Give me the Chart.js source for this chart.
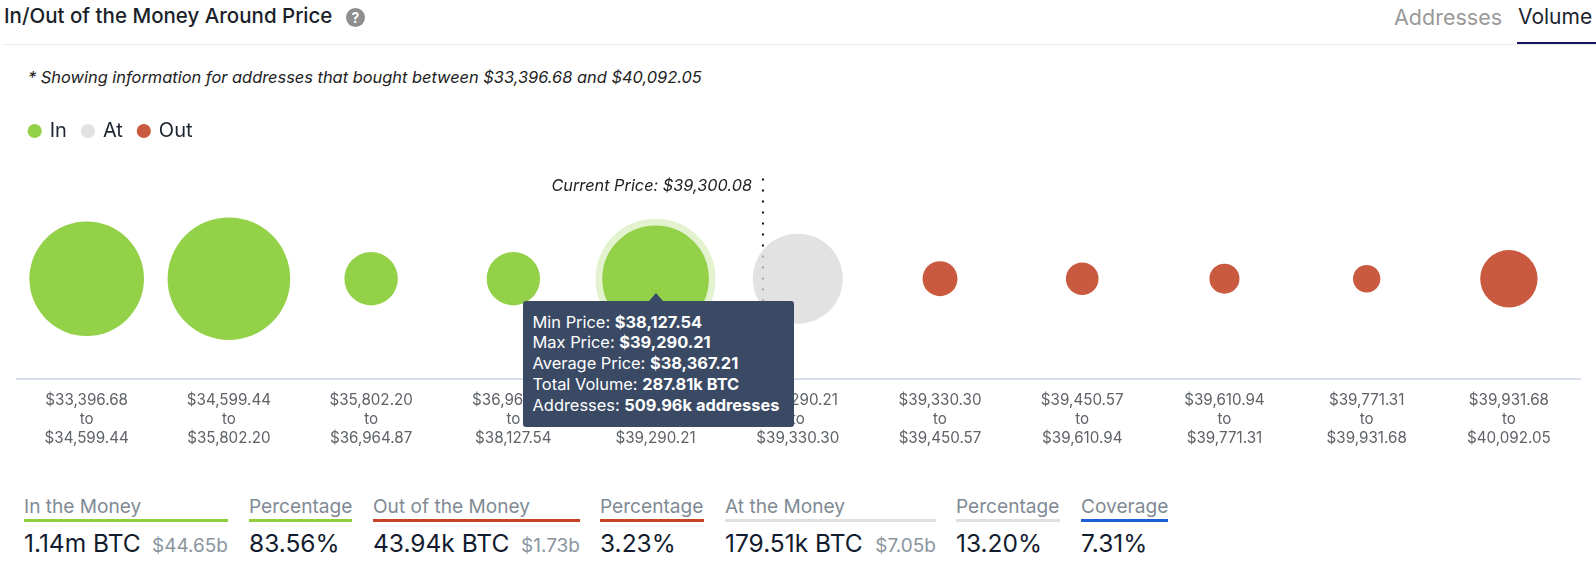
<!DOCTYPE html>
<html>
<head>
<meta charset="utf-8">
<title>In/Out of the Money Around Price</title>
<script src="https://cdn.jsdelivr.net/npm/chart.js@4/dist/chart.umd.min.js"></script>
<style>
    html, body { margin: 0; padding: 0; background: #fff; }
    body { width: 1596px; height: 566px; position: relative; overflow: hidden; font-family: Inter, sans-serif; }
    body > * { position: absolute; }
    #title { left: 4px; top: 4px; font-size: 20.5px; line-height: 24px; font-weight: 500; color: #1b1f2a; white-space: nowrap; }
    #help { left: 346px; top: 8px; width: 19px; height: 19px; border-radius: 50%; background: #8e8e8e; color: #fff; font-size: 14px; font-weight: 700; line-height: 19px; text-align: center; }
    #rule { left: 3px; right: 0; top: 44px; height: 1px; background: #e6eaf0; }
    #tab-addresses { left: 1394px; top: 4px; font-size: 21.5px; line-height: 26px; color: #999; }
    #tab-volume { left: 1518px; top: 4px; font-size: 21px; line-height: 26px; color: #1c2430; }
    #tab-line { left: 1517px; right: 0; top: 42px; height: 2px; background: #14145f; }
    #note { left: 28px; top: 67px; font-size: 16.4px; line-height: 20px; font-style: italic; color: #222; white-space: nowrap; }
    #chart { left: 0; top: 0; }
    #tip { display: none; background: #3a4a65; border-radius: 3px; color: #fff; font-size: 16.4px; line-height: 20.7px; padding: 11px 10px; white-space: nowrap; box-sizing: border-box; }
    #tip:before { content: ""; position: absolute; left: 126px; top: -8px; border-left: 7px solid transparent; border-right: 7px solid transparent; border-bottom: 8px solid #3a4a65; }
    #tip b { font-weight: 700; }
    .stat { top: 494px; height: 72px; }
    .stat .head { font-size: 19.1px; line-height: 24px; color: #7f8a94; white-space: nowrap; }
    .stat .bar { position: absolute; left: 0; right: 0; top: 25px; height: 3px; }
    .stat .val { position: absolute; left: 0; right: 0; top: 34px; font-size: 24.5px; line-height: 30px; color: #131c2e; white-space: nowrap; }
    .stat .val span { position: absolute; right: 0; top: 3px; font-size: 19px; color: #8b959e; }
</style>
</head>
<body>
<div id="title">In/Out of the Money Around Price</div>
<div id="help">?</div>
<div id="rule"></div>
<div id="tab-addresses">Addresses</div>
<div id="tab-volume">Volume</div>
<div id="tab-line"></div>
<div id="note">* Showing information for addresses that bought between $33,396.68 and $40,092.05</div>
<canvas id="chart" width="1596" height="460"></canvas>
<div id="tip"></div>

<script>
'use strict';

// price bands on the axis
const priceFrom = ['$33,396.68', '$34,599.44', '$35,802.20', '$36,964.87', '$38,127.54', '$39,290.21', '$39,330.30', '$39,450.57', '$39,610.94', '$39,771.31', '$39,931.68'];
const priceTo = ['$34,599.44', '$35,802.20', '$36,964.87', '$38,127.54', '$39,290.21', '$39,330.30', '$39,450.57', '$39,610.94', '$39,771.31', '$39,931.68', '$40,092.05'];

// volume per band in k BTC (only 287.81 is printed)
const inVolume = [332.6, 380.6, 72.2, 72.2, 287.81];
const atVolume = [205.1];
const outVolume = [31, 26.9, 22.8, 19, 83.4];

// where the current price falls on the band axis
const currentPricePos = 4.755;
const currentPriceLabel = 'Current Price: $39,300.08';

const tipLabels = ['Min Price', 'Max Price', 'Average Price', 'Total Volume', 'Addresses'];
const tipValues = ['$38,127.54', '$39,290.21', '$38,367.21', '287.81k BTC', '509.96k addresses'];

const statTitles = ['In the Money', 'Percentage', 'Out of the Money', 'Percentage', 'At the Money', 'Percentage', 'Coverage'];
const statValues = ['1.14m BTC', '83.56%', '43.94k BTC', '3.23%', '179.51k BTC', '13.20%', '7.31%'];
const statSubs = ['$44.65b', '', '$1.73b', '', '$7.05b', '', ''];

const colors = {
    green: '#92d148',
    greenRing: '#e3f2cf',
    grey: 'rgba(216, 216, 216, 0.75)',
    red: '#c9593f',
    axis: '#d9deee',
    tick: '#5f6368',
};

// left edge and width of each stat column, with its underline colour
const statBoxes = [[24, 204, '#8fcf3c'], [249, 103, '#8fcf3c'], [373, 207, '#c8431f'], [600, 104, '#c8431f'], [725, 211, '#e0e0e0'], [956, 104, '#e0e0e0'], [1081, 87, '#1f5fd6']];

statTitles.forEach(function (title, i) {
    let box = document.createElement('div');
    box.className = 'stat';
    box.style.left = statBoxes[i][0] + 'px';
    box.style.width = statBoxes[i][1] + 'px';
    box.innerHTML = '<div class="head">' + title + '</div>' +
        '<div class="bar" style="background:' + statBoxes[i][2] + '"></div>' +
        '<div class="val">' + statValues[i] + (statSubs[i] ? '<span>' + statSubs[i] + '</span>' : '') + '</div>';
    document.body.appendChild(box);
});

// bubble radius in px for a volume, area follows volume
const radius = v => 3.142 * Math.sqrt(v);

function bubbles(values, firstBand) {
    return values.map((v, i) => ({ x: firstBand + i, y: 0, r: radius(v) }));
}

function bubbleDataset(label, data, color) {
    return {
        type: 'bubble',
        label: label,
        data: data,
        backgroundColor: color,
        borderWidth: 0,
        hoverRadius: 3.35,
        hoverBorderWidth: 6.7,
        hoverBorderColor: colors.greenRing,
        hoverBackgroundColor: color,
        pointStyle: 'circle',
        order: 1,
    };
}

function drawTip(context) {
    let tip = document.getElementById('tip');
    let model = context.tooltip;
    if (model.opacity === 0 || !model.dataPoints) {
        tip.style.display = 'none';
        return;
    }
    tip.innerHTML = tipLabels.map((l, i) => l + ': <b>' + tipValues[i] + '</b>').join('<br>');
    tip.style.display = 'block';
    tip.style.left = (model.caretX - 133) + 'px';
    tip.style.top = (model.caretY + 22) + 'px';
    tip.style.width = '271px';
    tip.style.height = '126px';
}

const currentPricePlugin = {
    id: 'currentPrice',
    beforeDraw(chart) {
        chart.legend.left = 13.7;
    },
    afterDatasetsDraw(chart) {
        let ctx = chart.ctx;
        ctx.save();
        ctx.font = 'italic 16.3px Inter, sans-serif';
        ctx.fillStyle = '#222';
        ctx.textAlign = 'right';
        ctx.textBaseline = 'middle';
        ctx.fillText(currentPriceLabel, chart.scales.x.getPixelForValue(currentPricePos) - 11, 186);
        ctx.restore();
    },
};

let myChart = new Chart(document.getElementById('chart').getContext('2d'), {
    data: {
        datasets: [
            bubbleDataset('In', bubbles(inVolume, 0), colors.green),
            bubbleDataset('At', bubbles(atVolume, inVolume.length), colors.grey),
            bubbleDataset('Out', bubbles(outVolume, inVolume.length + atVolume.length), colors.red),
            {
                type: 'line',
                label: 'Current Price',
                data: [{ x: currentPricePos, y: 1 }, { x: currentPricePos, y: -1 }],
                borderColor: '#111',
                borderWidth: 2,
                borderDash: [2, 9],
                pointRadius: 0,
                order: 2,
            },
        ],
    },
    options: {
        responsive: false,
        animation: false,
        events: [],
        layout: { autoPadding: false, padding: { top: 105, left: 17, right: 16, bottom: 0 } },
        plugins: {
            legend: {
                position: 'top',
                align: 'start',
                labels: {
                    usePointStyle: true,
                    boxWidth: 10,
                    boxHeight: 10,
                    padding: 16,
                    color: '#1c2430',
                    font: { family: 'Inter, sans-serif', size: 20 },
                    filter: item => item.datasetIndex !== 3,
                },
            },
            tooltip: { enabled: false, external: drawTip },
        },
        scales: {
            x: {
                type: 'linear',
                min: -0.49,
                max: 10.5,
                grid: { display: false, drawTicks: false },
                border: { color: colors.axis, width: 2 },
                ticks: {
                    stepSize: 1,
                    includeBounds: false,
                    autoSkip: false,
                    maxRotation: 0,
                    padding: 12,
                    color: colors.tick,
                    font: { family: 'Inter, sans-serif', size: 15.2, lineHeight: 1.25 },
                    callback: value => [priceFrom[value], 'to', priceTo[value]],
                },
            },
            y: {
                display: false,
                min: -1,
                max: 1.273,
            },
        },
    },
    plugins: [currentPricePlugin],
});

// the reference shows the fifth band hovered
let hovered = [{ datasetIndex: 0, index: 4 }];
myChart.setActiveElements(hovered);
myChart.tooltip.setActiveElements(hovered, { x: 0, y: 0 });
myChart.update();
myChart.tooltip.setActiveElements(hovered, { x: 0, y: 0 });
</script>
</body>
</html>
